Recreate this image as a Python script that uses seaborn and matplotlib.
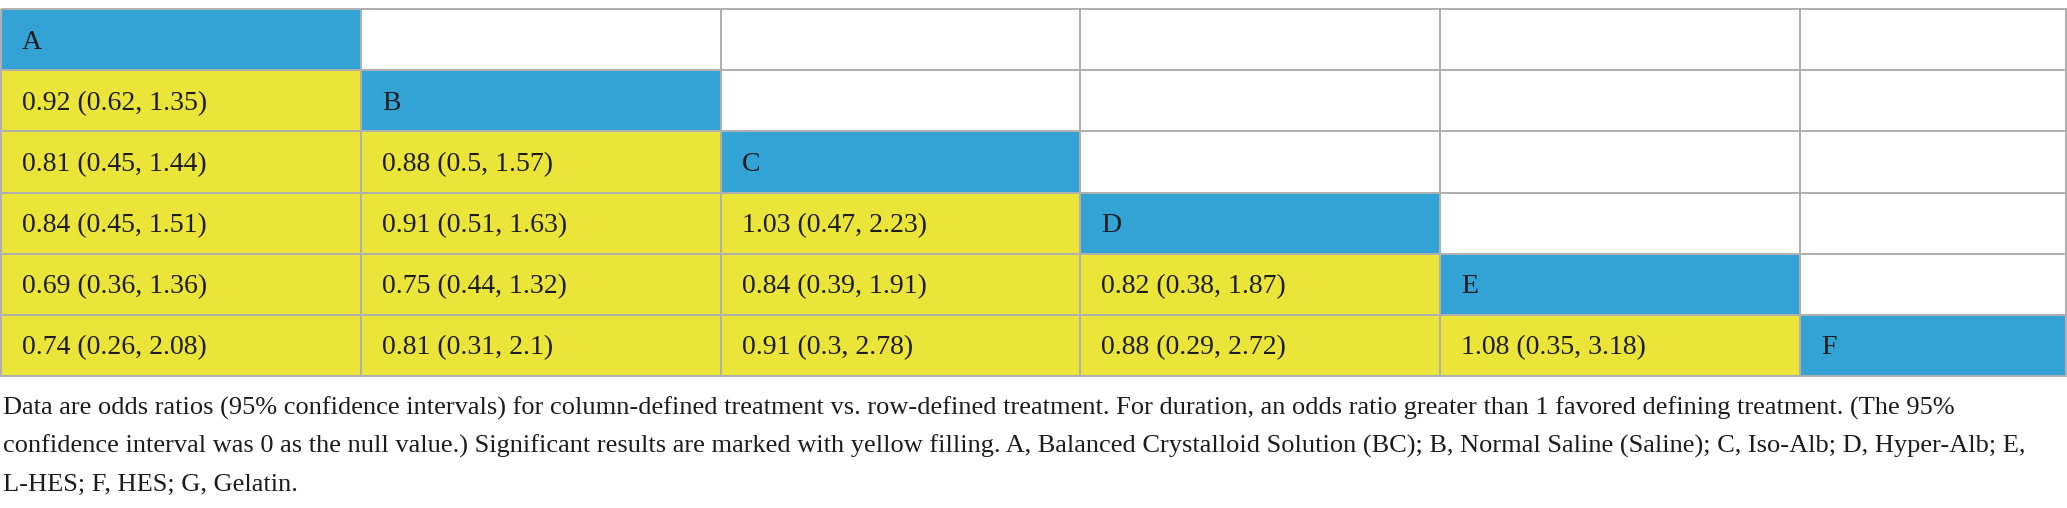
import numpy as np
import matplotlib
matplotlib.use('Agg')
from matplotlib import pyplot as plt
from matplotlib.colors import ListedColormap
from matplotlib.transforms import ScaledTranslation
import seaborn as sns

# treatments, in table order
treatments = ['A', 'B', 'C', 'D', 'E', 'F']

# lower triangle, row by row: odds ratio, lower and upper 95% CI
odds_ratio = [[0.92],
              [0.81, 0.88],
              [0.84, 0.91, 1.03],
              [0.69, 0.75, 0.84, 0.82],
              [0.74, 0.81, 0.91, 0.88, 1.08]]
ci_low = [[0.62],
          [0.45, 0.5],
          [0.45, 0.51, 0.47],
          [0.36, 0.44, 0.39, 0.38],
          [0.26, 0.31, 0.3, 0.29, 0.35]]
ci_high = [[1.35],
           [1.44, 1.57],
           [1.51, 1.63, 2.23],
           [1.36, 1.32, 1.91, 1.87],
           [2.08, 2.1, 2.78, 2.72, 3.18]]
significant = [[True],
               [True, True],
               [True, True, True],
               [True, True, True, True],
               [True, True, True, True, True]]

caption_lines = [
    'Data are odds ratios (95% confidence intervals) for column-defined treatment vs. '
    'row-defined treatment. For duration, an odds ratio greater than 1 favored defining '
    'treatment. (The 95%',
    'confidence interval was 0 as the null value.) Significant results are marked with '
    'yellow filling. A, Balanced Crystalloid Solution (BC); B, Normal Saline (Saline); '
    'C, Iso-Alb; D, Hyper-Alb; E,',
    'L-HES; F, HES; G, Gelatin.',
]

BLUE = '#33a3d5'
YELLOW = '#ebe539'
GRID = '#b0b0b0'
INK = '#1c1c1c'
FONT = 'Liberation Serif'

n = len(treatments)
# 0 = empty, 1 = treatment label (diagonal), 2 = significant result
cells = np.zeros((n, n), dtype=int)
texts = [['' for _ in range(n)] for _ in range(n)]
for i in range(n):
    cells[i, i] = 1
    texts[i][i] = treatments[i]
for i in range(1, n):
    for j in range(i):
        or_, lo, hi = odds_ratio[i - 1][j], ci_low[i - 1][j], ci_high[i - 1][j]
        cells[i, j] = 2 if significant[i - 1][j] else 0
        texts[i][j] = f'{or_} ({lo}, {hi})'

W, H, DPI = 2067, 508, 100
fig = plt.figure(figsize=(W / DPI, H / DPI), dpi=DPI)
sns.set_style('white')
plt.rcParams['font.family'] = [FONT, 'DejaVu Serif']

top, bottom = 9, 376
split = 1800  # last column is narrower than the others
ax_main = fig.add_axes([1 / W, 1 - bottom / H, (split - 1) / W, (bottom - top) / H])
ax_last = fig.add_axes([split / W, 1 - bottom / H, (W - 1 - split) / W,
                        (bottom - top) / H])
cmap = ListedColormap(['white', BLUE, YELLOW])

for ax, cols in [(ax_main, slice(0, n - 1)), (ax_last, slice(n - 1, n))]:
    sns.heatmap(cells[:, cols], cmap=cmap, vmin=-0.5, vmax=2.5, cbar=False,
                linewidths=1.1, linecolor=GRID, xticklabels=False,
                yticklabels=False, ax=ax)
    ax.collections[0].set_clip_on(False)
    pad = ax.transData + ScaledTranslation(21 / DPI, 0, fig.dpi_scale_trans)
    start = cols.start
    for i in range(n):
        for j in range(cols.stop - cols.start):
            s = texts[i][start + j]
            if s:
                ax.text(j, i + 0.54, s, transform=pad, ha='left', va='center',
                        fontsize=20, color=INK)

# caption, shrunk to the width used by the reference
cap_size = 18
tmp = fig.text(0, 0, caption_lines[1], fontsize=cap_size)
fig.canvas.draw()
width = tmp.get_window_extent().width
tmp.remove()
cap_size *= 2020 / width
for k, line in enumerate(caption_lines):
    fig.text(3 / W, 1 - (415 + 38 * k) / H, line, fontsize=cap_size,
             color=INK, ha='left', va='baseline')

fig.savefig('out.png', dpi=DPI)
